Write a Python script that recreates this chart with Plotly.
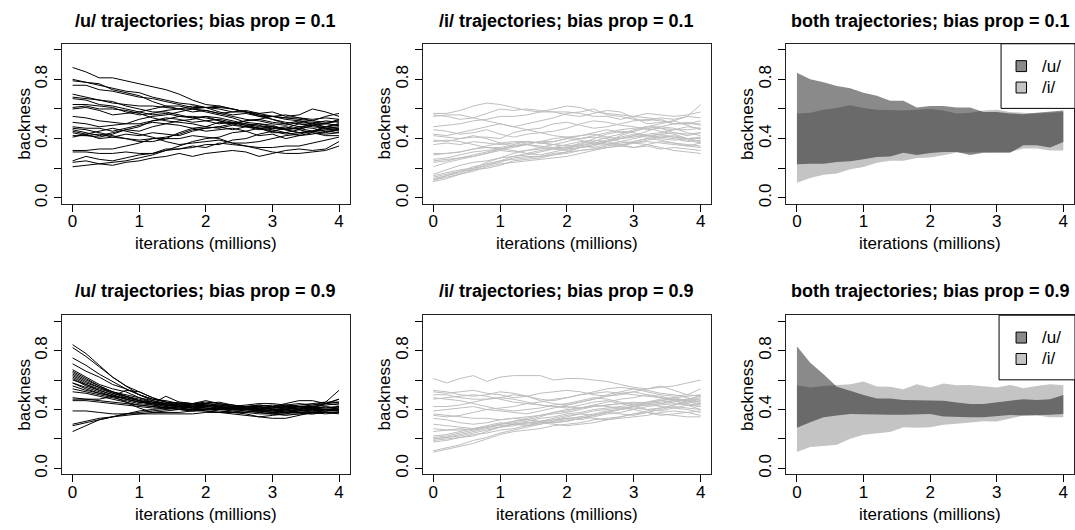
import plotly.graph_objects as go

# ---------------- data ----------------
iterations = [0.0, 0.2, 0.4, 0.6, 0.8, 1.0, 1.2, 1.4, 1.6, 1.8, 2.0,
              2.2, 2.4, 2.6, 2.8, 3.0, 3.2, 3.4, 3.6, 3.8, 4.0]

x_ticks = [0, 1, 2, 3, 4]
y_ticks = [0.0, 0.2, 0.4, 0.6, 0.8, 1.0]
y_tick_text = ["0.0", "", "0.4", "", "0.8", ""]

# /u/ trajectories, bias prop = 0.1
u_traj_01 = [
    [.88,.85,.81,.81,.79,.77,.75,.73,.70,.66,.63,.62,.60,.58,.56,.55,.53,.52,.50,.50,.49],
    [.80,.78,.76,.74,.72,.71,.68,.66,.64,.63,.61,.61,.60,.58,.57,.55,.54,.54,.52,.51,.52],
    [.79,.78,.77,.73,.71,.69,.65,.62,.62,.60,.58,.56,.54,.51,.50,.48,.46,.44,.45,.46,.47],
    [.76,.76,.73,.72,.70,.68,.67,.65,.63,.61,.61,.60,.58,.58,.56,.53,.51,.50,.48,.47,.45],
    [.70,.68,.66,.64,.63,.62,.62,.61,.60,.60,.61,.58,.56,.57,.55,.53,.50,.48,.49,.47,.46],
    [.68,.67,.66,.65,.62,.60,.58,.58,.56,.54,.55,.52,.50,.50,.48,.48,.46,.47,.45,.48,.50],
    [.67,.66,.63,.62,.60,.58,.56,.57,.55,.54,.52,.53,.51,.49,.47,.44,.44,.42,.43,.45,.44],
    [.63,.63,.62,.61,.58,.56,.57,.59,.60,.62,.61,.62,.60,.58,.55,.55,.56,.54,.53,.54,.53],
    [.61,.62,.60,.60,.59,.57,.54,.52,.51,.50,.48,.47,.49,.48,.46,.47,.48,.46,.49,.50,.52],
    [.60,.61,.59,.56,.57,.58,.60,.62,.60,.58,.59,.57,.55,.53,.52,.50,.49,.51,.50,.48,.50],
    [.51,.50,.48,.49,.50,.53,.55,.56,.58,.60,.59,.57,.58,.59,.57,.58,.55,.56,.60,.58,.55],
    [.48,.47,.47,.45,.47,.49,.51,.50,.52,.53,.55,.54,.52,.50,.49,.47,.46,.44,.45,.47,.48],
    [.46,.44,.42,.44,.46,.45,.48,.50,.49,.47,.45,.46,.47,.45,.42,.43,.40,.42,.44,.43,.44],
    [.45,.43,.40,.41,.43,.42,.44,.43,.42,.45,.47,.48,.46,.48,.50,.49,.46,.48,.47,.45,.46],
    [.44,.42,.41,.43,.46,.48,.52,.53,.55,.55,.54,.52,.50,.48,.47,.46,.44,.46,.44,.42,.42],
    [.42,.42,.43,.41,.40,.39,.40,.40,.40,.42,.41,.40,.37,.35,.33,.31,.30,.30,.31,.32,.35],
    [.41,.43,.45,.47,.45,.43,.41,.38,.36,.37,.38,.39,.37,.37,.38,.40,.42,.43,.45,.44,.46],
    [.32,.32,.33,.33,.35,.37,.40,.41,.43,.46,.47,.48,.50,.52,.53,.51,.50,.52,.51,.50,.53],
    [.31,.31,.30,.30,.31,.30,.30,.32,.33,.34,.36,.36,.39,.40,.43,.45,.47,.47,.50,.52,.51],
    [.25,.28,.26,.25,.27,.29,.30,.33,.33,.35,.34,.37,.36,.35,.34,.34,.35,.35,.37,.39,.41],
    [.24,.25,.23,.22,.24,.25,.27,.28,.30,.28,.30,.31,.32,.31,.28,.30,.32,.33,.32,.33,.38],
    [.21,.22,.23,.24,.25,.27,.29,.32,.35,.38,.40,.41,.44,.45,.47,.48,.47,.50,.49,.48,.47],
    [.47,.46,.44,.42,.40,.38,.38,.40,.44,.47,.48,.51,.50,.52,.53,.55,.54,.53,.52,.55,.57],
    [.55,.54,.52,.51,.50,.50,.52,.54,.53,.51,.52,.50,.51,.49,.47,.45,.43,.44,.45,.48,.49],
]

# /i/ trajectories, bias prop = 0.1
i_traj_01 = [
    [.57,.57,.59,.62,.64,.63,.61,.59,.58,.58,.58,.57,.55,.55,.53,.55,.57,.56,.55,.56,.58],
    [.55,.56,.56,.54,.52,.50,.48,.50,.52,.54,.57,.58,.60,.56,.55,.53,.52,.54,.53,.55,.54],
    [.56,.55,.53,.54,.57,.60,.59,.60,.59,.58,.56,.55,.57,.59,.58,.54,.50,.51,.52,.55,.63],
    [.48,.49,.50,.52,.53,.55,.55,.56,.58,.60,.62,.61,.58,.57,.56,.55,.54,.53,.50,.50,.52],
    [.46,.45,.43,.44,.46,.43,.41,.43,.44,.45,.47,.50,.52,.51,.49,.48,.46,.47,.44,.42,.44],
    [.42,.41,.40,.41,.41,.40,.44,.46,.47,.50,.51,.49,.47,.48,.50,.52,.53,.52,.50,.50,.50],
    [.39,.38,.40,.42,.40,.37,.35,.36,.38,.38,.40,.42,.44,.46,.44,.45,.48,.50,.52,.49,.46],
    [.36,.37,.36,.38,.37,.36,.37,.38,.37,.36,.38,.40,.41,.40,.38,.40,.42,.41,.42,.40,.38],
    [.30,.30,.31,.33,.35,.37,.38,.38,.37,.38,.40,.39,.37,.38,.40,.42,.45,.48,.47,.44,.42],
    [.29,.30,.31,.33,.34,.34,.36,.38,.37,.36,.35,.36,.37,.36,.35,.37,.38,.37,.36,.35,.37],
    [.26,.27,.29,.31,.32,.33,.35,.37,.38,.40,.41,.40,.42,.44,.46,.47,.48,.48,.50,.51,.49],
    [.24,.25,.27,.28,.30,.32,.31,.32,.33,.34,.36,.38,.39,.38,.36,.37,.39,.41,.40,.38,.39],
    [.21,.24,.26,.28,.30,.33,.34,.36,.35,.34,.34,.35,.37,.39,.41,.43,.42,.40,.39,.40,.41],
    [.16,.19,.22,.24,.25,.27,.28,.29,.31,.33,.33,.34,.36,.38,.40,.42,.41,.43,.44,.43,.44],
    [.15,.17,.19,.20,.22,.24,.27,.28,.28,.29,.31,.32,.33,.34,.35,.38,.40,.39,.37,.35,.34],
    [.14,.16,.18,.21,.23,.25,.26,.27,.28,.30,.31,.34,.36,.37,.36,.34,.35,.33,.34,.33,.32],
    [.13,.15,.18,.19,.20,.22,.25,.26,.27,.29,.30,.32,.33,.35,.37,.38,.40,.42,.41,.40,.40],
    [.12,.14,.16,.18,.21,.23,.24,.25,.26,.27,.28,.30,.32,.34,.35,.34,.36,.38,.37,.36,.35],
    [.11,.13,.16,.19,.22,.25,.28,.30,.32,.33,.34,.37,.38,.41,.43,.46,.48,.47,.46,.48,.47],
    [.12,.15,.17,.20,.24,.27,.30,.32,.34,.36,.35,.35,.34,.36,.38,.37,.36,.34,.32,.31,.30],
    [.25,.26,.27,.29,.31,.33,.32,.30,.29,.31,.33,.36,.40,.43,.45,.44,.42,.43,.41,.39,.37],
    [.38,.39,.38,.36,.34,.33,.35,.36,.34,.33,.32,.34,.35,.38,.42,.45,.47,.45,.43,.40,.38],
    [.43,.42,.44,.46,.48,.50,.48,.46,.44,.42,.41,.42,.43,.41,.40,.41,.43,.44,.46,.46,.47],
]

# /u/ trajectories, bias prop = 0.9
u_traj_09 = [
    [.84,.78,.70,.62,.56,.50,.46,.44,.43,.42,.42,.41,.40,.41,.42,.43,.42,.41,.40,.40,.40],
    [.82,.76,.69,.62,.56,.52,.48,.45,.44,.43,.44,.43,.42,.42,.41,.40,.41,.42,.42,.41,.42],
    [.75,.70,.64,.59,.54,.50,.47,.45,.44,.44,.43,.42,.41,.40,.39,.39,.40,.41,.40,.39,.39],
    [.71,.66,.62,.57,.54,.50,.47,.46,.44,.43,.42,.41,.41,.42,.41,.40,.40,.39,.39,.38,.38],
    [.67,.62,.57,.54,.52,.48,.45,.44,.45,.44,.44,.43,.43,.42,.42,.41,.43,.44,.43,.44,.45],
    [.65,.60,.56,.52,.49,.46,.44,.43,.42,.42,.43,.42,.41,.40,.40,.39,.40,.41,.42,.43,.44],
    [.63,.58,.55,.51,.48,.46,.45,.44,.43,.42,.41,.40,.39,.39,.38,.37,.38,.38,.38,.37,.38],
    [.61,.56,.53,.50,.47,.45,.44,.42,.43,.44,.43,.42,.41,.40,.41,.42,.43,.42,.41,.40,.41],
    [.58,.55,.52,.49,.47,.45,.44,.43,.42,.41,.42,.43,.42,.41,.40,.41,.41,.40,.42,.44,.47],
    [.56,.53,.51,.49,.48,.46,.44,.43,.42,.41,.40,.40,.41,.42,.43,.42,.41,.40,.39,.40,.41],
    [.54,.52,.50,.48,.46,.44,.43,.42,.41,.40,.40,.41,.42,.41,.40,.39,.38,.39,.41,.44,.47],
    [.52,.51,.49,.47,.45,.43,.42,.41,.40,.39,.40,.41,.41,.40,.39,.38,.38,.38,.39,.40,.40],
    [.48,.47,.47,.49,.53,.52,.48,.45,.43,.42,.41,.40,.40,.40,.41,.42,.44,.46,.46,.44,.43],
    [.47,.47,.46,.45,.44,.43,.42,.41,.41,.40,.40,.41,.42,.43,.44,.44,.43,.42,.41,.40,.39],
    [.39,.39,.38,.37,.37,.37,.37,.37,.37,.37,.38,.38,.39,.38,.37,.37,.36,.37,.37,.38,.38],
    [.30,.32,.34,.35,.36,.37,.38,.39,.40,.40,.39,.38,.37,.36,.35,.36,.37,.39,.40,.39,.40],
    [.29,.31,.33,.35,.37,.39,.40,.41,.42,.41,.40,.39,.38,.37,.35,.34,.34,.36,.38,.39,.40],
    [.25,.29,.33,.35,.37,.38,.39,.40,.41,.42,.43,.42,.41,.40,.40,.41,.42,.42,.41,.40,.39],
    [.62,.57,.53,.50,.47,.45,.44,.49,.45,.44,.46,.44,.43,.42,.43,.42,.41,.42,.43,.45,.53],
    [.60,.57,.54,.51,.49,.47,.45,.43,.42,.43,.44,.45,.43,.41,.39,.38,.39,.40,.41,.42,.41],
    [.66,.61,.56,.52,.49,.46,.43,.41,.40,.39,.39,.38,.38,.38,.39,.40,.39,.38,.37,.38,.37],
    [.58,.54,.51,.49,.45,.41,.38,.38,.38,.39,.40,.40,.40,.39,.38,.37,.37,.37,.38,.38,.38],
    [.64,.59,.55,.52,.50,.48,.46,.44,.42,.41,.41,.40,.40,.41,.40,.41,.42,.43,.44,.45,.45],
    [.46,.46,.45,.44,.43,.42,.41,.41,.42,.44,.45,.44,.42,.40,.39,.38,.39,.40,.42,.41,.42],
]

# /i/ trajectories, bias prop = 0.9
i_traj_09 = [
    [.61,.58,.61,.63,.59,.62,.63,.63,.63,.60,.61,.61,.60,.59,.57,.55,.54,.55,.56,.58,.60],
    [.53,.52,.50,.49,.50,.52,.51,.49,.47,.46,.48,.50,.52,.54,.55,.54,.53,.51,.50,.48,.46],
    [.52,.51,.52,.53,.51,.50,.48,.49,.51,.52,.53,.52,.50,.49,.50,.52,.54,.56,.53,.50,.54],
    [.50,.50,.48,.47,.47,.48,.50,.49,.46,.44,.43,.45,.47,.49,.51,.52,.50,.48,.46,.44,.42],
    [.48,.47,.46,.44,.42,.40,.39,.40,.41,.43,.44,.46,.48,.47,.45,.43,.44,.46,.47,.45,.44],
    [.42,.42,.43,.45,.47,.48,.47,.45,.43,.42,.41,.43,.45,.46,.44,.42,.40,.41,.43,.46,.48],
    [.39,.40,.41,.42,.40,.39,.38,.37,.39,.41,.43,.45,.47,.50,.52,.54,.52,.50,.49,.50,.49],
    [.37,.36,.35,.34,.34,.33,.34,.33,.32,.31,.32,.34,.36,.38,.40,.42,.43,.44,.46,.43,.40],
    [.34,.33,.31,.30,.31,.33,.34,.35,.36,.37,.38,.40,.42,.43,.44,.45,.44,.42,.41,.40,.38],
    [.30,.29,.28,.27,.28,.30,.32,.33,.35,.38,.40,.41,.43,.45,.47,.48,.50,.49,.47,.46,.45],
    [.27,.26,.26,.27,.29,.31,.30,.29,.31,.33,.34,.33,.35,.37,.38,.40,.38,.36,.37,.38,.36],
    [.22,.23,.25,.27,.28,.30,.32,.34,.36,.38,.39,.41,.43,.42,.41,.42,.43,.44,.45,.47,.49],
    [.21,.22,.24,.26,.28,.29,.30,.31,.32,.34,.36,.37,.36,.38,.40,.41,.40,.39,.41,.43,.44],
    [.20,.21,.22,.24,.26,.28,.30,.30,.31,.31,.32,.34,.36,.38,.37,.36,.38,.40,.42,.41,.40],
    [.19,.20,.21,.23,.24,.26,.27,.29,.30,.32,.34,.35,.34,.33,.35,.37,.39,.41,.43,.45,.47],
    [.12,.14,.16,.19,.21,.24,.26,.28,.30,.32,.33,.35,.37,.39,.40,.42,.44,.45,.46,.47,.45],
    [.11,.13,.15,.17,.20,.23,.25,.26,.27,.29,.30,.31,.33,.34,.35,.37,.38,.37,.36,.35,.35],
    [.20,.21,.23,.25,.27,.28,.30,.31,.31,.30,.29,.30,.31,.33,.34,.35,.36,.38,.39,.38,.39],
    [.25,.26,.27,.26,.28,.30,.31,.32,.34,.35,.37,.38,.40,.41,.42,.43,.45,.47,.48,.46,.43],
    [.18,.19,.21,.22,.25,.28,.29,.31,.32,.33,.35,.37,.39,.40,.41,.40,.42,.43,.44,.43,.42],
    [.36,.35,.36,.38,.40,.41,.42,.44,.45,.47,.48,.50,.51,.52,.51,.50,.49,.48,.47,.46,.50],
    [.47,.48,.49,.50,.49,.47,.45,.44,.43,.42,.42,.41,.42,.43,.44,.44,.45,.46,.48,.49,.50],
]

# envelope bands (lower / upper) drawn in the "both trajectories" panels
u_band_01_upper = [.845,.80,.78,.755,.74,.71,.69,.655,.655,.61,.62,.62,.61,.61,.58,.58,.57,.565,.575,.585,.59]
u_band_01_lower = [.227,.23,.23,.243,.247,.26,.276,.28,.305,.29,.303,.31,.31,.29,.305,.303,.305,.355,.355,.34,.377]
i_band_01_upper = [.57,.575,.595,.607,.625,.607,.595,.59,.59,.595,.60,.59,.57,.575,.59,.595,.58,.575,.57,.575,.58]
i_band_01_lower = [.103,.135,.157,.164,.193,.209,.238,.25,.25,.27,.272,.288,.306,.306,.31,.31,.31,.333,.333,.32,.32]

u_band_09_upper = [.83,.717,.64,.554,.527,.498,.475,.475,.464,.464,.464,.46,.448,.437,.437,.448,.46,.47,.464,.47,.498]
u_band_09_lower = [.276,.314,.348,.359,.37,.37,.365,.365,.365,.365,.37,.352,.352,.348,.348,.354,.363,.359,.363,.365,.37]
i_band_09_upper = [.565,.55,.56,.567,.572,.59,.556,.554,.538,.572,.55,.576,.565,.567,.56,.55,.567,.545,.56,.572,.565]
i_band_09_lower = [.112,.146,.152,.161,.202,.229,.24,.247,.28,.276,.28,.296,.303,.314,.32,.318,.34,.359,.359,.348,.348]

titles = ["/u/ trajectories; bias prop = 0.1", "/i/ trajectories; bias prop = 0.1",
          "both trajectories; bias prop = 0.1",
          "/u/ trajectories; bias prop = 0.9", "/i/ trajectories; bias prop = 0.9",
          "both trajectories; bias prop = 0.9"]
legend_labels = ["/u/", "/i/"]

# ---------------- styling / layout ----------------
W, H = 1075, 530
FONT = "Liberation Sans, Arial, Helvetica, sans-serif"
U_LINE = "black"
I_LINE = "#bebebe"
I_FILL = "#c4c4c4"
U_FILL = "rgba(0,0,0,0.46)"
U_SWATCH = "#898989"
I_SWATCH = "#c4c4c4"

col_px = [(62, 350), (423, 712), (787, 1075)]
row_px = [(44, 205), (317, 477)]

fig = go.Figure()


def ax_name(k):
    return "" if k == 1 else str(k)


def add_lines(k, trajs, color):
    for tr in trajs:
        fig.add_trace(go.Scatter(x=iterations, y=tr, mode="lines",
                                 line=dict(color=color, width=1),
                                 xaxis="x" + ax_name(k), yaxis="y" + ax_name(k),
                                 hoverinfo="skip", showlegend=False))


def add_band(k, lower, upper, fill):
    fig.add_trace(go.Scatter(x=iterations + iterations[::-1], y=upper + lower[::-1],
                             mode="lines", fill="toself", fillcolor=fill,
                             line=dict(width=0, color=fill),
                             xaxis="x" + ax_name(k), yaxis="y" + ax_name(k),
                             hoverinfo="skip", showlegend=False))


add_lines(1, u_traj_01, U_LINE)
add_lines(2, i_traj_01, I_LINE)
add_band(3, i_band_01_lower, i_band_01_upper, I_FILL)
add_band(3, u_band_01_lower, u_band_01_upper, U_FILL)
add_lines(4, u_traj_09, U_LINE)
add_lines(5, i_traj_09, I_LINE)
add_band(6, i_band_09_lower, i_band_09_upper, I_FILL)
add_band(6, u_band_09_lower, u_band_09_upper, U_FILL)

layout = dict(width=W, height=H, margin=dict(l=0, r=0, t=0, b=0),
              paper_bgcolor="white", plot_bgcolor="white",
              font=dict(family=FONT, size=17, color="black"), showlegend=False)

annotations = []
shapes = []
for r in range(2):
    for c in range(3):
        k = r * 3 + c + 1
        x0, x1 = col_px[c]
        y0, y1 = row_px[r]
        layout["xaxis" + ax_name(k)] = dict(
            domain=[x0 / W, x1 / W], anchor="y" + ax_name(k),
            range=[-0.16, 4.16], tickvals=x_ticks, ticks="outside", ticklen=7,
            tickcolor="black", showgrid=False, zeroline=False,
            showline=True, mirror=True, linecolor="#222", linewidth=1,
            tickfont=dict(size=17), ticklabelstandoff=-5, fixedrange=True)
        layout["yaxis" + ax_name(k)] = dict(
            domain=[1 - y1 / H, 1 - y0 / H], anchor="x" + ax_name(k),
            range=[-0.04, 1.04], tickvals=y_ticks, ticktext=y_tick_text,
            ticks="outside", ticklen=7, tickcolor="black", tickangle=-90,
            showgrid=False, zeroline=False,
            showline=True, mirror=True, linecolor="#222", linewidth=1,
            tickfont=dict(size=17), ticklabelstandoff=0, fixedrange=True)
        cx = (x0 + x1) / 2
        title_y = [21, 293][r]
        annotations.append(dict(text="<b>" + titles[k - 1] + "</b>", x=cx / W, y=1 - title_y / H,
                                xref="paper", yref="paper", xanchor="center", yanchor="middle",
                                showarrow=False, font=dict(size=18)))
        xt_y = [245, 517][r]
        annotations.append(dict(text="iterations (millions)", x=cx / W, y=1 - xt_y / H,
                                xref="paper", yref="paper", xanchor="center", yanchor="middle",
                                showarrow=False, font=dict(size=17)))
        yt_x = [25, 385, 748][c]
        annotations.append(dict(text="backness", x=yt_x / W, y=1 - ((y0 + y1) / 2) / H,
                                xref="paper", yref="paper", xanchor="center", yanchor="middle",
                                textangle=-90, showarrow=False, font=dict(size=17)))

# custom legends in the "both" panels
leg_boxes = [(1002, 44, 1076, 109), (1000, 317, 1076, 382)]
for (bx0, by0, bx1, by1) in leg_boxes:
    shapes.append(dict(type="rect", xref="paper", yref="paper", layer="above",
                       x0=bx0 / W, x1=bx1 / W, y0=1 - by1 / H, y1=1 - by0 / H,
                       line=dict(color="black", width=1), fillcolor="white"))
    for j, (lab, col) in enumerate(zip(legend_labels, [U_SWATCH, I_SWATCH])):
        cy = by0 + 22.5 + j * 21.5
        shapes.append(dict(type="rect", xref="paper", yref="paper", layer="above",
                           x0=1017 / W, x1=1027.5 / W, y0=1 - (cy + 5.5) / H, y1=1 - (cy - 5.5) / H,
                           line=dict(color="black", width=1), fillcolor=col))
        annotations.append(dict(text=lab, x=1041 / W, y=1 - cy / H, xref="paper", yref="paper",
                                xanchor="left", yanchor="middle", showarrow=False,
                                font=dict(size=17)))

layout["annotations"] = annotations
layout["shapes"] = shapes
fig.update_layout(**layout)
fig.write_html("out.html", config={"displayModeBar": False, "staticPlot": True},
               post_script="document.body.style.margin='0px';document.body.style.overflow='hidden';")
